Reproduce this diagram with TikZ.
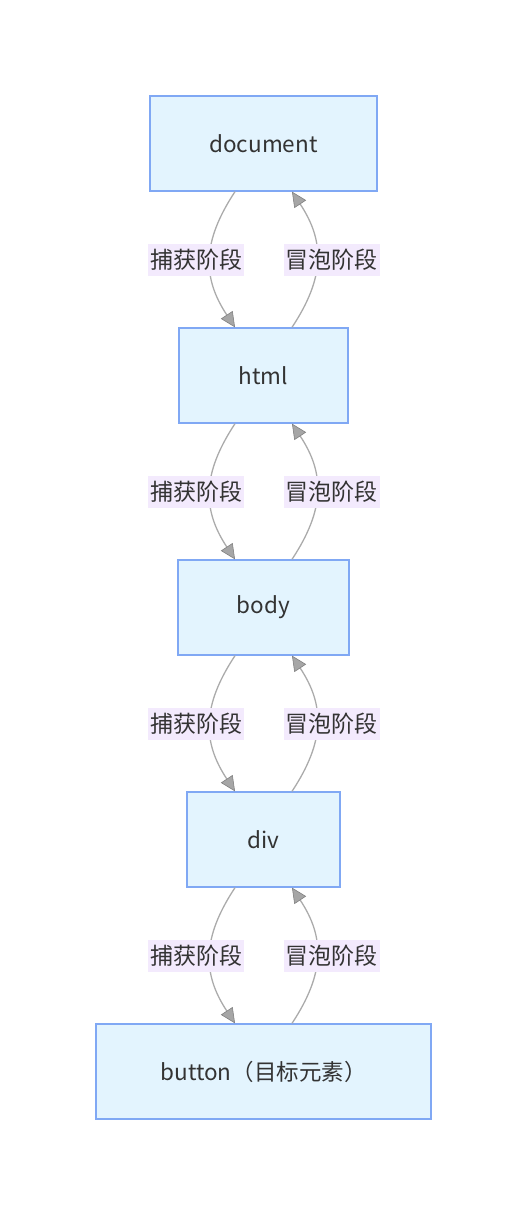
\documentclass[tikz,border=0pt]{standalone}
\usepackage{fontspec}
\setmainfont{Noto Sans CJK SC}
\usetikzlibrary{arrows.meta}

\definecolor{boxfill}{HTML}{E3F4FE}
\definecolor{boxline}{HTML}{80A8F4}
\definecolor{lblfill}{HTML}{F3EAFD}
\definecolor{edgeline}{HTML}{ABABAB}
\definecolor{tipfill}{HTML}{A6A6A6}
\definecolor{txt}{HTML}{333333}

\tikzset{
  elem/.style={draw=boxline, fill=boxfill, line width=1.3pt, minimum height=95pt,
    text=txt, font=\fontsize{22.5}{26}\selectfont},
  phase/.style={fill=lblfill, text=txt, inner sep=2pt, minimum height=32pt,
    font=\fontsize{23}{27}\selectfont},
  flow/.style={draw=edgeline, line width=1.3pt,
    -{Triangle[length=15pt, width=14pt, fill=tipfill, color=gray, line width=0.6pt]}}
}

\begin{document}
\begin{tikzpicture}[x=1pt, y=-1pt]
    \useasboundingbox (0,0) rectangle (527,1216);
    % dom tree, top to bottom
    \node[elem, minimum width=227pt] (doc)  at (263.5,143.5)  {document};
    \node[elem, minimum width=169pt] (html) at (263.5,375.5)  {html};
    \node[elem, minimum width=171pt] (body) at (263.5,607.5)  {body};
    \node[elem, minimum width=153pt] (div)  at (263.5,839.5)  {div};
    \node[elem, minimum width=335pt] (btn)  at (263.5,1071.5) {button（目标元素）};
    % capture going down, bubble going up
    \foreach \upper/\lower in {doc/html, html/body, body/div, div/btn}{
      \draw[flow] ([xshift=-28.5pt]\upper.south) .. controls +(-33,50) and +(-33,-50)
        .. node[phase, pos=0.5, xshift=-14pt] {捕获阶段} ([xshift=-28.5pt]\lower.north);
      \draw[flow] ([xshift=28.5pt]\lower.north) .. controls +(33,-50) and +(33,50)
        .. node[phase, pos=0.5, xshift=15pt] {冒泡阶段} ([xshift=28.5pt]\upper.south);
    }
  \end{tikzpicture}
\end{document}
